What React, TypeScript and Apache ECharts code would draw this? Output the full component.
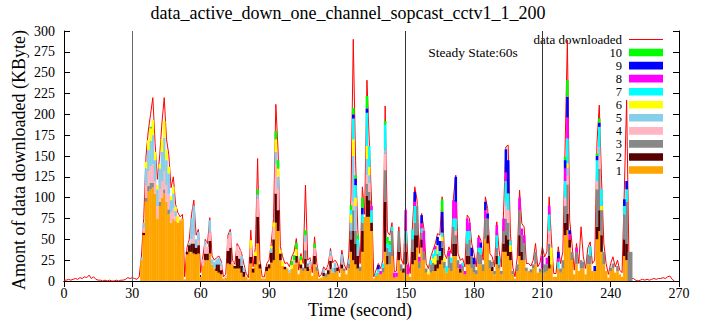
import { useEffect, useRef } from 'react';
import * as echarts from 'echarts';

const FONT = '"Liberation Serif", "Times New Roman", serif';

const titleText = 'data_active_down_one_channel_sopcast_cctv1_1_200';
const xAxisTitle = 'Time (second)';
const yAxisTitle = 'Amont of data downloaded (KByte)';
const noteText = 'Steady State:60s';
const lineName = 'data downloaded';

const xMax = 270;
const xStep = 30;
const yMax = 300;
const yStep = 25;
const markSeconds = [30, 150, 210];

// first second with bars
const firstSecond = 34;

// red line: total downloaded, seconds 0..33
const totalBefore = [
  1, 1, 2, 1, 2, 3, 2, 4, 3, 5,
  4, 7, 3, 5, 2, 1, 1, 0, 1, 0,
  1, 0, 0, 1, 0, 1, 1, 2, 4, 3,
  4, 3, 2, 5,
];
// seconds 34..249
const totalActive = [
  30, 75, 150, 180, 200, 220, 165, 122, 150, 190,
  220, 170, 152, 112, 125, 92, 82, 77, 80, 5,
  40, 50, 80, 97, 55, 62, 10, 30, 50, 45,
  76, 30, 25, 28, 30, 24, 5, 8, 55, 62,
  25, 20, 45, 40, 33, 20, 9, 4, 61, 17,
  40, 147, 25, 5, 5, 21, 25, 45, 75, 212,
  155, 41, 29, 21, 22, 17, 29, 35, 51, 13,
  33, 21, 115, 25, 28, 10, 53, 21, 5, 8,
  17, 13, 20, 39, 22, 25, 21, 10, 37, 20,
  13, 30, 101, 290, 145, 61, 21, 113, 80, 241,
  169, 97, 5, 13, 21, 15, 25, 210, 59, 55,
  70, 11, 12, 65, 27, 20, 87, 23, 9, 67,
  113, 97, 33, 81, 63, 21, 15, 29, 37, 45,
  57, 55, 101, 33, 27, 41, 33, 101, 127, 33,
  25, 27, 17, 79, 75, 45, 33, 17, 55, 49,
  25, 101, 87, 33, 29, 17, 71, 37, 17, 85,
  161, 163, 57, 17, 5, 29, 109, 69, 65, 21,
  21, 18, 25, 45, 17, 22, 41, 29, 35, 101,
  49, 9, 9, 41, 21, 35, 161, 289, 73, 45,
  13, 45, 21, 65, 29, 15, 40, 47, 21, 25,
  167, 211, 121, 45, 21, 8, 21, 29, 17, 25,
  13, 10, 109, 217, 30, 3,
];
// seconds 250..268
const totalAfter = [3, 1, 0, 1, 2, 1, 2, 1, 2, 3, 2, 3, 3, 4, 3, 5, 6, 2, 0];

// channel 1 (orange), seconds 34..249
const channel1 = [
  25, 55, 95, 108, 110, 112, 105, 75, 90, 100,
  105, 95, 80, 70, 75, 72, 70, 72, 75, 2,
  32, 35, 35, 33, 32, 33, 5, 18, 25, 25,
  33, 20, 15, 12, 10, 8, 3, 4, 21, 20,
  20, 15, 15, 15, 10, 5, 5, 2, 21, 10,
  20, 45, 15, 3, 3, 12, 15, 22, 25, 70,
  60, 25, 18, 14, 15, 10, 15, 20, 22, 8,
  15, 12, 15, 12, 15, 6, 20, 12, 3, 4,
  6, 5, 8, 14, 10, 10, 12, 5, 15, 12,
  8, 15, 35, 25, 20, 15, 12, 35, 77, 77,
  77, 60, 3, 6, 10, 8, 10, 35, 20, 20,
  30, 4, 5, 25, 12, 10, 20, 8, 5, 20,
  25, 40, 15, 40, 25, 10, 8, 10, 12, 12,
  15, 20, 25, 15, 10, 15, 12, 30, 30, 15,
  10, 12, 8, 20, 20, 15, 10, 8, 20, 20,
  12, 50, 45, 15, 12, 8, 20, 15, 8, 35,
  35, 30, 25, 8, 3, 12, 30, 25, 25, 12,
  12, 10, 15, 20, 10, 10, 15, 10, 12, 15,
  20, 5, 5, 15, 10, 15, 55, 61, 40, 25,
  8, 20, 12, 15, 15, 8, 20, 20, 12, 12,
  50, 60, 35, 20, 12, 4, 12, 15, 10, 12,
  8, 5, 30, 25, 0, 0,
];

// other channels as [second, KByte] pairs (absent seconds are 0)
const channel2 = [
  [35, 3], [54, 3], [55, 8], [56, 10], [57, 12], [58, 8], [59, 10], [62, 8], [63, 8], [64, 15],
  [67, 8], [68, 10], [69, 5], [72, 15], [73, 20], [75, 3], [76, 15], [77, 12], [78, 8], [79, 6],
  [82, 8], [83, 5], [84, 10], [85, 32], [86, 5], [89, 5], [90, 5], [91, 12], [92, 25], [93, 35],
  [94, 25], [95, 8], [97, 3], [102, 8], [104, 5], [106, 12], [107, 5], [110, 10], [114, 4], [116, 5],
  [117, 10], [120, 4], [122, 5], [126, 15], [127, 35], [128, 25], [129, 15], [131, 25], [133, 25], [134, 20],
  [135, 10], [141, 60], [142, 10], [147, 10], [149, 5], [150, 15], [153, 15], [154, 30], [155, 15], [157, 10],
  [163, 8], [164, 10], [165, 10], [166, 15], [171, 15], [172, 15], [174, 5], [177, 10], [178, 10], [186, 10],
  [188, 5], [190, 10], [193, 10], [194, 20], [195, 20], [196, 10], [200, 25], [201, 10], [213, 15], [220, 15],
  [221, 20], [222, 10], [234, 15], [235, 25], [236, 20], [246, 20], [247, 20],
];
const channel3 = [
  [36, 5], [37, 6], [38, 8], [39, 6], [42, 5], [44, 5], [46, 6], [105, 4], [106, 10], [107, 4],
  [111, 5], [115, 4], [119, 6], [123, 3], [125, 6], [126, 10], [127, 25], [128, 15], [130, 5], [131, 10],
  [133, 15], [134, 10], [140, 6], [141, 38], [142, 10], [143, 15], [144, 30], [147, 25], [148, 8], [150, 10],
  [153, 15], [154, 15], [155, 35], [156, 8], [157, 8], [158, 10], [159, 5], [161, 10], [162, 10], [164, 8],
  [166, 8], [167, 8], [169, 15], [170, 10], [171, 20], [172, 10], [173, 10], [175, 6], [177, 15], [178, 20],
  [179, 15], [180, 10], [181, 5], [182, 15], [183, 12], [184, 8], [185, 25], [186, 20], [187, 10], [188, 6],
  [189, 4], [190, 10], [191, 5], [192, 4], [193, 15], [194, 20], [195, 20], [197, 4], [199, 8], [200, 30],
  [201, 20], [202, 20], [203, 4], [205, 4], [206, 5], [207, 15], [209, 5], [211, 10], [212, 8], [213, 15],
  [218, 5], [219, 10], [220, 20], [221, 35], [223, 10], [225, 15], [227, 10], [228, 8], [230, 12], [231, 10],
  [234, 45], [235, 50], [236, 30], [237, 15], [240, 4], [241, 6], [243, 6], [246, 30], [247, 50], [248, 35],
  [249, 35],
];
const channel4 = [
  [35, 6], [36, 15], [37, 18], [38, 20], [39, 22], [40, 15], [41, 15], [42, 15], [43, 20], [44, 22],
  [45, 20], [46, 18], [47, 12], [48, 12], [49, 6], [51, 2], [56, 5], [57, 10], [59, 6], [61, 8],
  [62, 10], [63, 8], [64, 10], [69, 5], [71, 2], [72, 15], [73, 15], [74, 3], [76, 12], [77, 10],
  [82, 10], [85, 22], [92, 15], [93, 35], [94, 25], [101, 5], [106, 10], [108, 5], [110, 10], [116, 4],
  [117, 6], [127, 10], [133, 10], [134, 10], [141, 20], [172, 5], [194, 15], [195, 15], [213, 15], [220, 10],
  [221, 10], [234, 10], [235, 15],
];
const channel5 = [
  [34, 3], [35, 6], [36, 20], [37, 25], [38, 30], [39, 35], [40, 25], [41, 20], [42, 25], [43, 35],
  [44, 40], [45, 30], [46, 25], [47, 15], [48, 18], [49, 6], [55, 3], [56, 25], [57, 35], [58, 10],
  [59, 10], [62, 5], [64, 15], [65, 6], [66, 8], [67, 6], [68, 8], [69, 4], [73, 4], [78, 12],
  [79, 5], [85, 5], [91, 5], [93, 15], [94, 15], [99, 3], [106, 8], [108, 4], [114, 4], [117, 6],
  [118, 6], [119, 6], [122, 12], [125, 5], [126, 10], [127, 55], [128, 30], [129, 10], [133, 20], [134, 10],
  [141, 5], [194, 5], [221, 10], [235, 10],
];
const channel6 = [
  [36, 8], [37, 12], [38, 15], [39, 18], [40, 10], [41, 5], [42, 5], [43, 15], [44, 20], [45, 12],
  [46, 8], [47, 5], [48, 8], [49, 5], [50, 8], [82, 10], [84, 5], [91, 3], [92, 5], [93, 15],
  [94, 10], [95, 4], [96, 5], [100, 4], [102, 8], [104, 5], [126, 10], [127, 20], [128, 10], [133, 15],
  [134, 10], [160, 4], [162, 5], [163, 10], [164, 10], [166, 5], [167, 5], [196, 8], [214, 20], [221, 5],
  [236, 5],
];
const channel7 = [
  [126, 5], [127, 25], [128, 15], [129, 10], [131, 10], [133, 40], [134, 25], [135, 15], [137, 4], [138, 4],
  [140, 5], [141, 30], [142, 5], [143, 8], [144, 5], [150, 15], [153, 12], [154, 20], [157, 5], [161, 5],
  [162, 6], [163, 8], [165, 6], [166, 5], [168, 8], [170, 6], [171, 10], [172, 15], [175, 4], [177, 15],
  [178, 10], [182, 5], [183, 8], [190, 15], [191, 10], [194, 25], [195, 20], [196, 5], [213, 20], [217, 8],
  [220, 20], [221, 30], [231, 12], [234, 25], [235, 25], [236, 20], [246, 10], [247, 15],
];
const channel8 = [
  [135, 5], [139, 4], [145, 6], [146, 5], [150, 25], [151, 12], [154, 5], [156, 6], [157, 6], [158, 25],
  [163, 4], [169, 6], [171, 22], [172, 20], [174, 5], [176, 4], [177, 15], [178, 10], [182, 12], [185, 10],
  [190, 12], [193, 15], [194, 10], [200, 15], [201, 8], [202, 10], [210, 15], [212, 8], [213, 10], [217, 4],
  [220, 15], [221, 25], [222, 6], [225, 5],
];
const channel9 = [
  [127, 5], [128, 8], [131, 8], [133, 5], [138, 5], [154, 12], [157, 10], [164, 10], [165, 12], [166, 25],
  [172, 30], [179, 10], [180, 8], [183, 6], [185, 10], [186, 6], [194, 28], [195, 40], [217, 8], [220, 10],
  [221, 25], [222, 5], [233, 6], [234, 5], [235, 5], [246, 8], [247, 10],
];
const channel10 = [
  [38, 2], [85, 6], [93, 10], [94, 10], [100, 5], [101, 6], [102, 8], [104, 5], [106, 6], [110, 5],
  [126, 6], [127, 8], [128, 4], [129, 5], [131, 12], [133, 15], [141, 4], [142, 8], [143, 5], [166, 15],
  [220, 4], [221, 20], [234, 3], [235, 5],
];

const channelNames = ['1', '2', '3', '4', '5', '6', '7', '8', '9', '10'];
const channelColors = [
  '#ffa500', '#560000', '#888888', '#ffb6c1', '#87ceeb',
  '#ffff00', '#00ffff', '#ff00ff', '#0000ff', '#00ff00',
];

// one category per second, 0..270
const seconds = Array.from({ length: xMax + 1 }, (_, i) => String(i));

function fullFromActive(vals: number[]): number[] {
  return seconds.map((_, i) => {
    const j = i - firstSecond;
    return j >= 0 && j < vals.length ? vals[j] : 0;
  });
}

function fullFromPairs(pairs: number[][]): number[] {
  const arr = seconds.map(() => 0);
  pairs.forEach(([t, v]) => {
    arr[t] = v;
  });
  return arr;
}

export default function App() {
  const ref = useRef<HTMLDivElement>(null);

  useEffect(() => {
    document.body.style.margin = '0';
    if (!ref.current) return;
    const chart = echarts.init(ref.current, undefined, { renderer: 'svg' });

    const channels = [
      fullFromActive(channel1),
      fullFromPairs(channel2),
      fullFromPairs(channel3),
      fullFromPairs(channel4),
      fullFromPairs(channel5),
      fullFromPairs(channel6),
      fullFromPairs(channel7),
      fullFromPairs(channel8),
      fullFromPairs(channel9),
      fullFromPairs(channel10),
    ];
    const totals = [...totalBefore, ...totalActive, ...totalAfter];
    const lineData = seconds.map((_, i) => (i < totals.length ? totals[i] : null));

    const barSeries = channels.map((vals, k) => ({
      name: channelNames[k],
      type: 'bar',
      stack: 'channels',
      barWidth: 2.6,
      z: 2,
      itemStyle: { color: channelColors[k] },
      emphasis: { disabled: true },
      data: vals,
    }));

    const legendGraphics: any[] = [];
    const legX = 629;
    const legW = 34;
    const textRight = 622;
    const row0 = 39.5;
    const rowGap = 13.05;
    legendGraphics.push({
      type: 'text',
      x: textRight,
      y: row0,
      style: {
        text: lineName, font: `13px ${FONT}`, lineHeight: 11, fill: '#000',
        align: 'right', verticalAlign: 'middle',
      },
    });
    legendGraphics.push({
      type: 'line',
      shape: { x1: legX, y1: row0, x2: legX + legW, y2: row0 },
      style: { stroke: '#ff0000', lineWidth: 1 },
    });
    for (let k = 9; k >= 0; k--) {
      const r = 10 - k;
      const y = row0 + r * rowGap;
      legendGraphics.push({
        type: 'rect',
        shape: { x: legX, y: y - 3.8, width: legW, height: 7.6 },
        style: { fill: channelColors[k] },
      });
      legendGraphics.push({
        type: 'text',
        x: textRight,
        y: y + 0.5,
        style: {
          text: channelNames[k], font: `12.5px ${FONT}`, lineHeight: 10, fill: '#000',
          align: 'right', verticalAlign: 'middle',
        },
      });
    }

    const axisLine = { show: true, lineStyle: { color: '#000', width: 1 } };
    const tick = { show: true, inside: true, length: 6, lineStyle: { color: '#000' } };

    chart.setOption({
      animation: false,
      grid: { left: 64, right: 27, top: 31, bottom: 43, containLabel: false },
      xAxis: [
        {
          type: 'category',
          position: 'bottom',
          data: seconds,
          boundaryGap: false,
          splitLine: { show: false },
          axisLine,
          axisTick: { ...tick, interval: xStep - 1 },
          axisLabel: { color: '#000', fontFamily: FONT, fontSize: 14, margin: 5, interval: xStep - 1 },
        },
        {
          type: 'value',
          position: 'top',
          min: 0,
          max: xMax,
          interval: xStep,
          splitLine: { show: false },
          axisLine,
          axisTick: tick,
          axisLabel: { show: false },
        },
      ],
      yAxis: [
        {
          type: 'value',
          position: 'left',
          min: 0,
          max: yMax,
          interval: yStep,
          splitLine: { show: false },
          axisLine,
          axisTick: tick,
          axisLabel: { color: '#000', fontFamily: FONT, fontSize: 14, margin: 9 },
        },
        {
          type: 'value',
          position: 'right',
          min: 0,
          max: yMax,
          interval: yStep,
          splitLine: { show: false },
          axisLine,
          axisTick: tick,
          axisLabel: { show: false },
        },
      ],
      series: [
        {
          name: lineName,
          type: 'line',
          z: 1,
          symbol: 'none',
          lineStyle: { color: '#ff0000', width: 1 },
          emphasis: { disabled: true },
          data: lineData,
        },
        ...barSeries,
        {
          name: 'marks',
          type: 'line',
          z: 3,
          data: [],
          markLine: {
            silent: true,
            symbol: ['none', 'none'],
            label: { show: false },
            lineStyle: { type: 'solid', width: 1, color: '#444' },
            data: markSeconds.map((s) => ({
              xAxis: String(s),
              lineStyle: { color: s === 30 ? '#666' : '#333', width: 1, type: 'solid' },
            })),
          },
        },
      ],
      graphic: [
        {
          type: 'text',
          x: 348,
          y: 13,
          style: { text: titleText, font: `18px ${FONT}`, fill: '#000', align: 'center', verticalAlign: 'middle' },
        },
        {
          type: 'text',
          x: 360,
          y: 310,
          style: { text: xAxisTitle, font: `18px ${FONT}`, fill: '#000', align: 'center', verticalAlign: 'middle' },
        },
        {
          type: 'text',
          x: 19,
          y: 160,
          rotation: Math.PI / 2,
          style: { text: yAxisTitle, font: `18px ${FONT}`, fill: '#000', align: 'center', verticalAlign: 'middle' },
        },
        {
          type: 'text',
          x: 473,
          y: 52,
          style: { text: noteText, font: `13.5px ${FONT}`, fill: '#000', align: 'center', verticalAlign: 'middle' },
        },
        ...legendGraphics,
      ],
    });

    return () => {
      chart.dispose();
    };
  }, []);

  return <div ref={ref} style={{ width: 706, height: 324 }} />;
}
